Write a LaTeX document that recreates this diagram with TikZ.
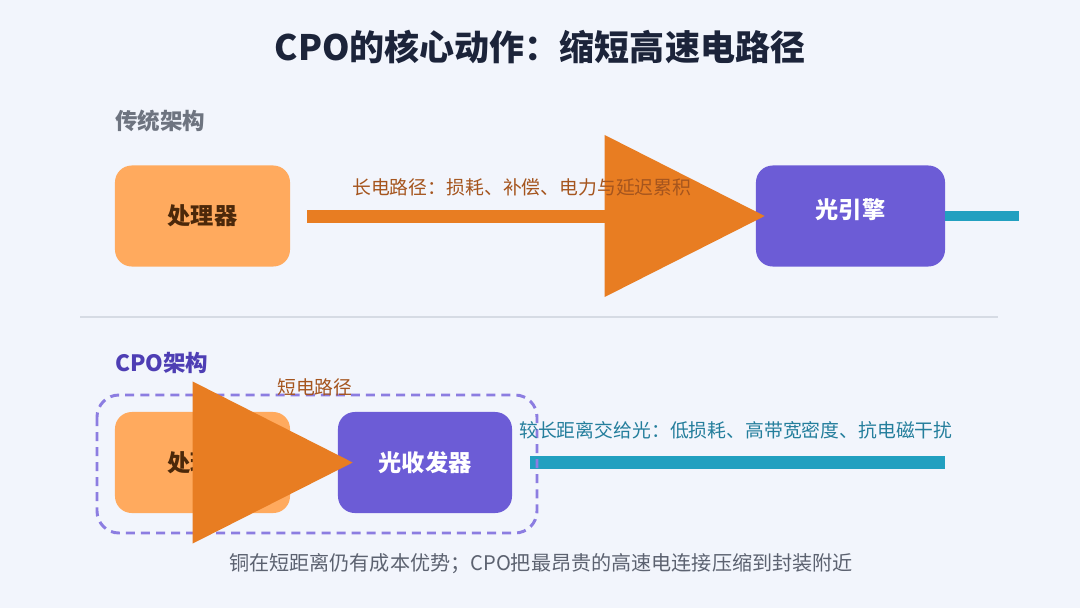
\documentclass[tikz,border=0pt]{standalone}
\usepackage{fontspec}
\setmainfont{Noto Sans CJK SC}
\usetikzlibrary{arrows.meta}

% Farben
\definecolor{hintergrund}{RGB}{242,245,252}
\definecolor{titelfarbe}{RGB}{28,36,58}
\definecolor{grautext}{RGB}{110,116,128}
\definecolor{notizgrau}{RGB}{92,98,112}
\definecolor{trennlinie}{RGB}{214,219,228}
\definecolor{cpuorange}{RGB}{255,170,94}
\definecolor{cpubraun}{RGB}{75,40,10}
\definecolor{pfadorange}{RGB}{232,125,34}
\definecolor{pfadbraun}{RGB}{165,85,30}
\definecolor{optlila}{RGB}{108,92,214}
\definecolor{cpolila}{RGB}{78,62,180}
\definecolor{rahmenlila}{RGB}{140,125,225}
\definecolor{faserblau}{RGB}{34,160,192}
\definecolor{fasertext}{RGB}{36,126,156}

\tikzset{
	block/.style={rounded corners=0.42cm, minimum height=2.525cm, inner sep=0pt,
		font=\fontsize{16.5}{20}\selectfont\bfseries},
	cpublock/.style={block, minimum width=4.375cm, fill=cpuorange, text=cpubraun},
	optblock/.style={block, fill=optlila, text=white},
	elpfad/.style={draw=pfadorange, line width=9.25pt,
		-{Triangle[length=4cm, width=4.05cm, line width=0pt]}},
	glasfaser/.style={draw=faserblau},
	beschriftung/.style={anchor=west, inner sep=0pt, font=\fontsize{13.4}{16}\selectfont},
	abschnitt/.style={anchor=west, inner sep=0pt, font=\fontsize{16}{19}\selectfont\bfseries}
}

\begin{document}
\begin{tikzpicture}[x=0.025cm, y=-0.025cm]
	% Hintergrund
	\fill[hintergrund] (0,0) rectangle (1080,608);
	\useasboundingbox (0,0) rectangle (1080,608);

	% Titel
	\node[titelfarbe, font=\fontsize{24.9}{30}\selectfont\bfseries] (titel) at (540,47)
		{CPO的核心动作：缩短高速电路径};

	% Traditionelle Architektur
	\node[abschnitt, grautext] (traditionell) at (115,121) {传统架构};
	\node[cpublock] (cpu1) at (202.5,216) {处理器};
	\node[optblock, minimum width=4.725cm] (engine) at (850.5,216) {\raisebox{0.35cm}{光引擎}};
	\coordinate (faser1) at (1019,216);
	\draw[glasfaser, line width=7.1pt] (engine.east) -- (faser1);
	\draw[elpfad, shorten <=0.425cm, shorten >=-0.225cm] (cpu1.east) -- (engine.west);
	\node[beschriftung, pfadbraun] (langpfad) at (352,187)
		{长电路径：损耗、补偿、电力与延迟累积};

	% Trennlinie
	\coordinate (trennlinks) at (80,317);
	\coordinate (trennrechts) at (998,317);
	\draw[trennlinie, line width=1pt] (trennlinks) -- (trennrechts);

	% CPO Architektur
	\node[abschnitt, cpolila] (cpo) at (115,363) {CPO架构};
	\node[cpublock] (cpu2) at (202.5,462.5) {处理器};
	\node[optblock, minimum width=4.35cm] (trx) at (425,462.5) {光收发器};
	\coordinate (faser2) at (945,462.5);
	\draw[glasfaser, line width=9.25pt, shorten <=0.45cm] (trx.east) -- (faser2);
	\draw[rahmenlila, line width=2.1pt, dash pattern=on 6.4pt off 4.3pt, rounded corners=0.55cm]
		(97,395) rectangle (537,533);
	\draw[elpfad, shorten >=-0.375cm] (cpu2.east) -- (trx.west);
	\node[beschriftung, pfadbraun] (kurzpfad) at (277,387) {短电路径};
	\node[beschriftung, fasertext] (optisch) at (519,430)
		{较长距离交给光：低损耗、高带宽密度、抗电磁干扰};

	% Fussnote
	\node[notizgrau, inner sep=0pt, font=\fontsize{14.3}{17}\selectfont] (notiz) at (541,564)
		{铜在短距离仍有成本优势；CPO把最昂贵的高速电连接压缩到封装附近};
\end{tikzpicture}
\end{document}
